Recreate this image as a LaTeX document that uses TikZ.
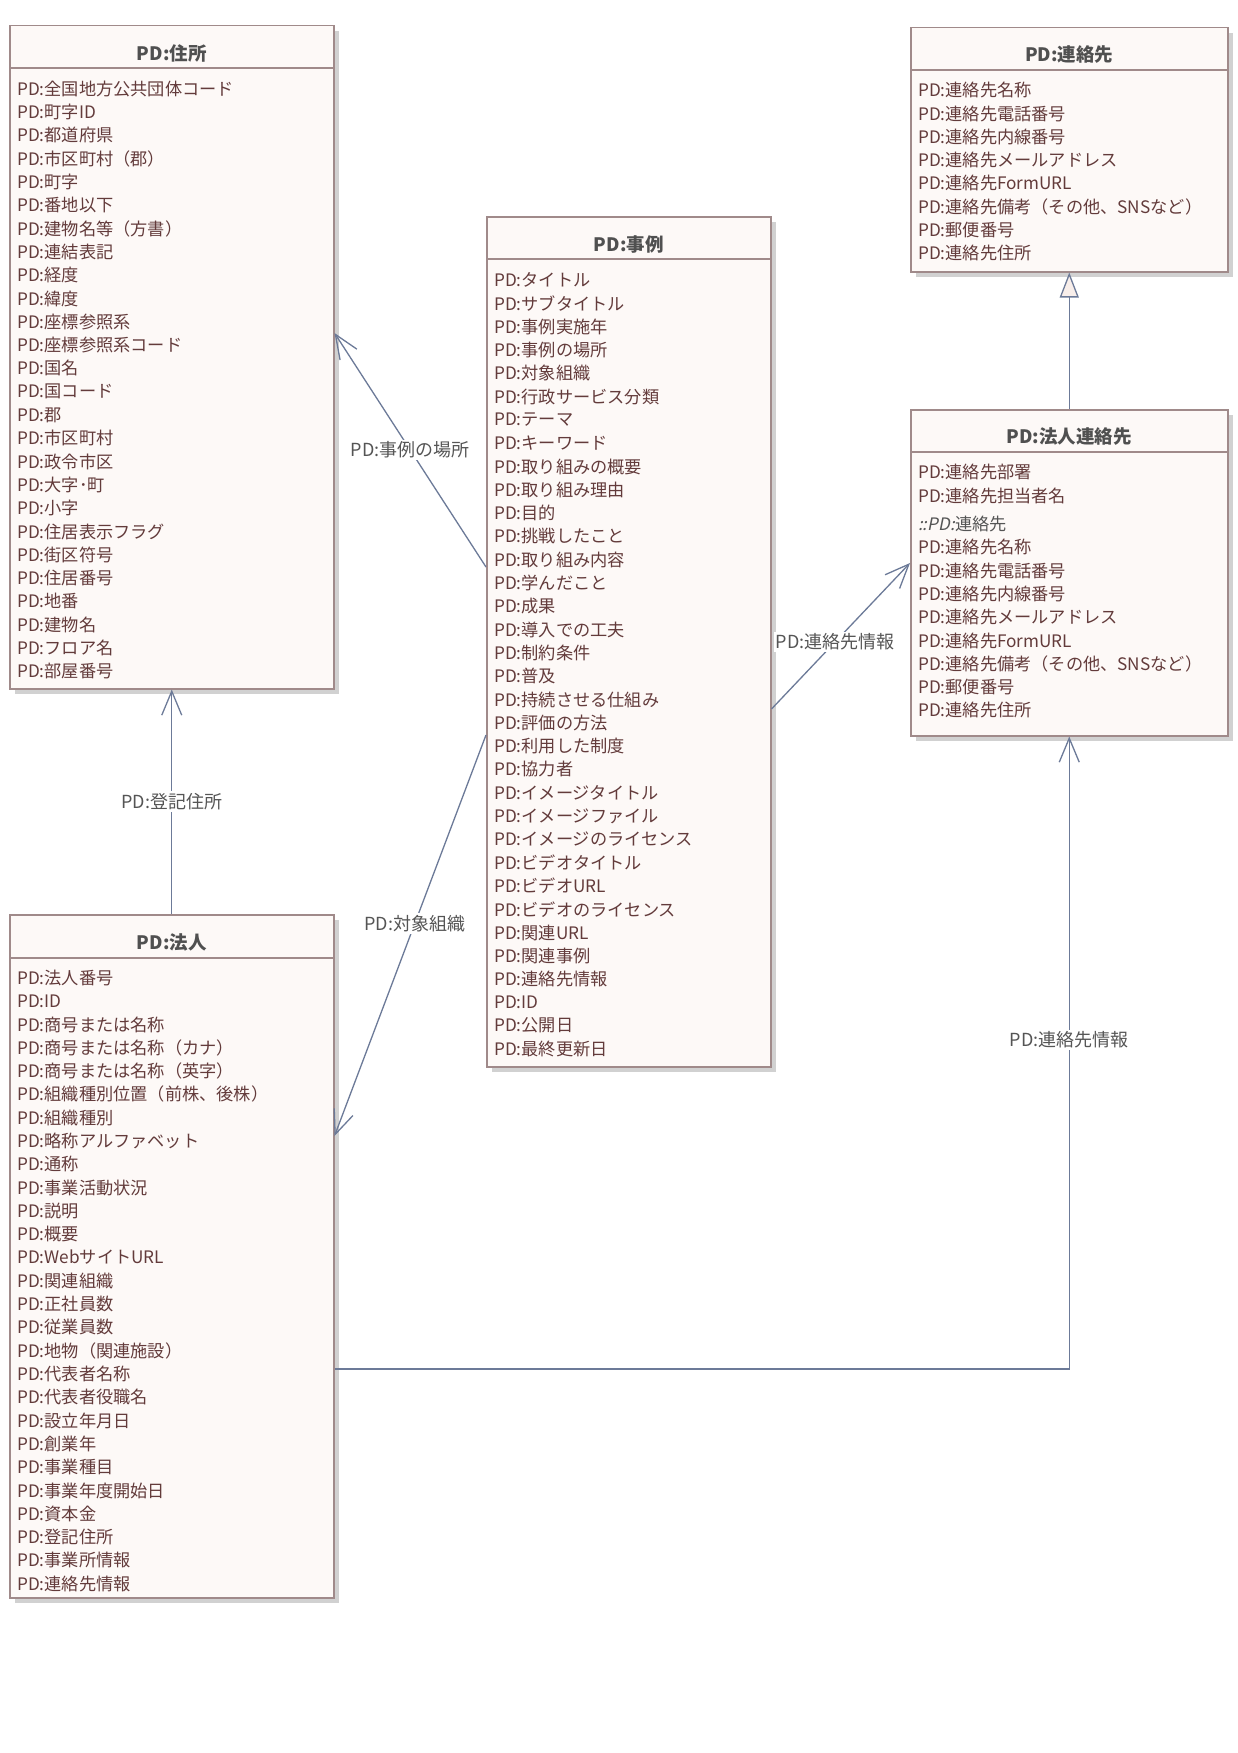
\documentclass[tikz,border=0pt]{standalone}
\usepackage{fontspec}
\setmainfont{Noto Sans CJK JP}
\newfontfamily\slantfont[FakeSlant=0.2]{Noto Sans CJK JP}
\usetikzlibrary{arrows.meta,shadows,calc}

\definecolor{boxfill}{HTML}{FDF9F7}
\definecolor{boxline}{HTML}{A08A8A}
\definecolor{itemtext}{HTML}{633B3B}
\definecolor{headtext}{HTML}{505050}
\definecolor{linkline}{HTML}{6C7A98}
\definecolor{labeltext}{HTML}{555555}
\definecolor{gentri}{HTML}{F8EEEA}

\tikzset{
  classbox/.style={draw=boxline, fill=boxfill, line width=1.5pt, anchor=north west,
    inner sep=0pt, drop shadow={shadow xshift=5pt, shadow yshift=-5pt, fill=black!18, opacity=1}},
  divider/.style={draw=boxline, line width=1.3pt},
  titletext/.style={font=\fontsize{18.5}{22}\selectfont\bfseries, text=headtext, inner sep=0pt},
  item/.style={anchor=west, inner sep=0pt, font=\fontsize{17.2}{20}\selectfont, text=itemtext},
  link/.style={draw=linkline, line width=1.3pt},
  barb/.style={-{Straight Barb[length=24pt, width=20pt]}},
  generalize/.style={-{Triangle[length=25pt, width=19pt, fill=gentri]}},
  lbl/.style={fill=white, inner sep=2pt, text=labeltext, font=\fontsize{18}{20}\selectfont}
}

\begin{document}
\begin{tikzpicture}[x=1pt, y=-1pt]
\fill[white] (0,0) rectangle (1238,1753);
\useasboundingbox (0,0) rectangle (1238,1753);

% ---------- PD:住所 ----------
\node[classbox, minimum width=324pt, minimum height=663pt] (addr) at (9,25) {};
\draw[divider] ($(addr.north west)+(0,43)$) -- ($(addr.north east)+(0,43)$);
\node[titletext] (addr-title) at ($(addr.north)+(0,28)$) {PD:住所};
\foreach \t [count=\i] in {
  {PD:全国地方公共団体コード},{PD:町字ID},{PD:都道府県},{PD:市区町村（郡）},{PD:町字},
  {PD:番地以下},{PD:建物名等（方書）},{PD:連結表記},{PD:経度},{PD:緯度},
  {PD:座標参照系},{PD:座標参照系コード},{PD:国名},{PD:国コード},{PD:郡},
  {PD:市区町村},{PD:政令市区},{PD:大字･町},{PD:小字},{PD:住居表示フラグ},
  {PD:街区符号},{PD:住居番号},{PD:地番},{PD:建物名},{PD:フロア名},{PD:部屋番号}}
  \node[item] (addr-\i) at ($(addr.north west)+(8,{63.8+23.3*(\i-1)})$) {\t};

% ---------- PD:事例 ----------
\node[classbox, minimum width=284pt, minimum height=850pt] (case) at (486,216) {};
\draw[divider] ($(case.north west)+(0,43)$) -- ($(case.north east)+(0,43)$);
\node[titletext] (case-title) at ($(case.north)+(0,28)$) {PD:事例};
\foreach \t [count=\i] in {
  {PD:タイトル},{PD:サブタイトル},{PD:事例実施年},{PD:事例の場所},{PD:対象組織},
  {PD:行政サービス分類},{PD:テーマ},{PD:キーワード},{PD:取り組みの概要},{PD:取り組み理由},
  {PD:目的},{PD:挑戦したこと},{PD:取り組み内容},{PD:学んだこと},{PD:成果},
  {PD:導入での工夫},{PD:制約条件},{PD:普及},{PD:持続させる仕組み},{PD:評価の方法},
  {PD:利用した制度},{PD:協力者},{PD:イメージタイトル},{PD:イメージファイル},{PD:イメージのライセンス},
  {PD:ビデオタイトル},{PD:ビデオURL},{PD:ビデオのライセンス},{PD:関連URL},{PD:関連事例},
  {PD:連絡先情報},{PD:ID},{PD:公開日},{PD:最終更新日}}
  \node[item] (case-\i) at ($(case.north west)+(8,{64.1+23.3*(\i-1)})$) {\t};

% ---------- PD:連絡先 ----------
\node[classbox, minimum width=317pt, minimum height=244pt] (contact) at (910,27) {};
\draw[divider] ($(contact.north west)+(0,43)$) -- ($(contact.north east)+(0,43)$);
\node[titletext] (contact-title) at ($(contact.north)+(0,28)$) {PD:連絡先};
\foreach \t [count=\i] in {
  {PD:連絡先名称},{PD:連絡先電話番号},{PD:連絡先内線番号},{PD:連絡先メールアドレス},
  {PD:連絡先FormURL},{PD:連絡先備考（その他、SNSなど）},{PD:郵便番号},{PD:連絡先住所}}
  \node[item] (contact-\i) at ($(contact.north west)+(8,{63.3+23.3*(\i-1)})$) {\t};

% ---------- PD:法人連絡先 ----------
\node[classbox, minimum width=317pt, minimum height=326pt] (corpcontact) at (910,409) {};
\draw[divider] ($(corpcontact.north west)+(0,43)$) -- ($(corpcontact.north east)+(0,43)$);
\node[titletext] (corpcontact-title) at ($(corpcontact.north)+(0,28)$) {PD:法人連絡先};
\node[item] (corpcontact-a) at ($(corpcontact.north west)+(8,63.5)$) {PD:連絡先部署};
\node[item] (corpcontact-b) at ($(corpcontact.north west)+(8,86.8)$) {PD:連絡先担当者名};
\node[item, text=labeltext] (corpcontact-inh) at ($(corpcontact.north west)+(8,114.9)$) {{\slantfont ::PD:}連絡先};
\foreach \t [count=\i] in {
  {PD:連絡先名称},{PD:連絡先電話番号},{PD:連絡先内線番号},{PD:連絡先メールアドレス},
  {PD:連絡先FormURL},{PD:連絡先備考（その他、SNSなど）},{PD:郵便番号},{PD:連絡先住所}}
  \node[item] (corpcontact-\i) at ($(corpcontact.north west)+(8,{138.3+23.3*(\i-1)})$) {\t};

% ---------- PD:法人 ----------
\node[classbox, minimum width=324pt, minimum height=683pt] (corp) at (9,914) {};
\draw[divider] ($(corp.north west)+(0,44)$) -- ($(corp.north east)+(0,44)$);
\node[titletext] (corp-title) at ($(corp.north)+(0,28)$) {PD:法人};
\foreach \t [count=\i] in {
  {PD:法人番号},{PD:ID},{PD:商号または名称},{PD:商号または名称（カナ）},{PD:商号または名称（英字）},
  {PD:組織種別位置（前株、後株）},{PD:組織種別},{PD:略称アルファベット},{PD:通称},{PD:事業活動状況},
  {PD:説明},{PD:概要},{PD:WebサイトURL},{PD:関連組織},{PD:正社員数},
  {PD:従業員数},{PD:地物（関連施設）},{PD:代表者名称},{PD:代表者役職名},{PD:設立年月日},
  {PD:創業年},{PD:事業種目},{PD:事業年度開始日},{PD:資本金},{PD:登記住所},
  {PD:事業所情報},{PD:連絡先情報}}
  \node[item] (corp-\i) at ($(corp.north west)+(8,{63.9+23.3*(\i-1)})$) {\t};

% ---------- associations ----------
\draw[link, barb] ($(case.north west)+(0,351)$) -- ($(addr.north east)+(0,308)$)
  node[lbl, pos=0.5] (lbl-place) {PD:事例の場所};
\draw[link, barb] (corp.north) -- (addr.south)
  node[lbl, pos=0.5] (lbl-regaddr) {PD:登記住所};
\draw[link, barb] ($(case.north west)+(0,519)$) -- ($(corp.north east)+(0,222)$)
  node[lbl, pos=0.47] (lbl-target) {PD:対象組織};
\draw[link, barb] ($(case.north east)+(0,493)$) -- ($(corpcontact.north west)+(0,154)$)
  node[lbl, pos=0.46] (lbl-info1) {PD:連絡先情報};
\draw[link, barb] ($(corp.north east)+(0,455)$) -| (corpcontact.south)
  node[lbl, pos=0.76] (lbl-info2) {PD:連絡先情報};

% ---------- generalization ----------
\draw[link, generalize] (corpcontact.north) -- (contact.south);
\end{tikzpicture}
\end{document}
